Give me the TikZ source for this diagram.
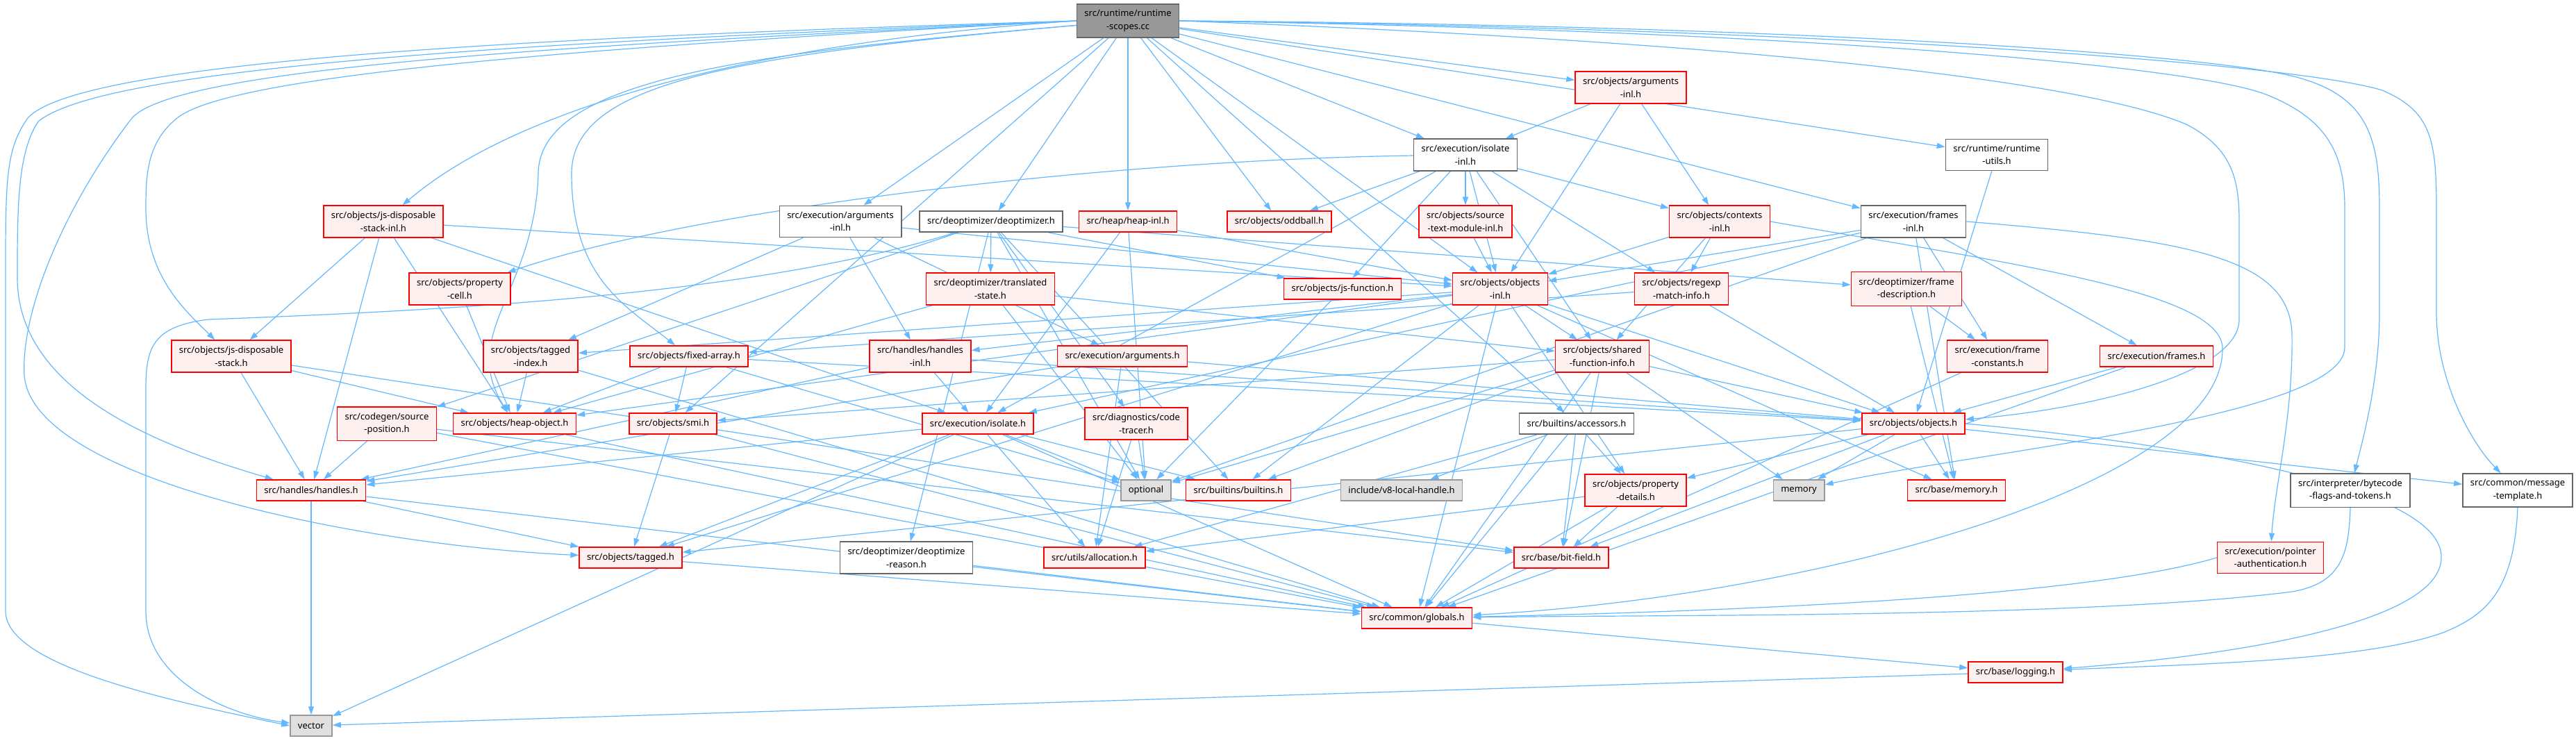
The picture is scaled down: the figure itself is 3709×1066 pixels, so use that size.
\documentclass[tikz,border=0pt]{standalone}
\usepackage{fontspec}
\setmainfont{Noto Sans}
\usetikzlibrary{arrows.meta,backgrounds}
\definecolor{edgeblue}{HTML}{63B8FF}
\definecolor{truncfill}{HTML}{FFF0F0}
\definecolor{sysfill}{HTML}{E0E0E0}
\definecolor{rootfill}{HTML}{999999}
\tikzset{
  hdr/.style={rectangle, align=center, inner xsep=11pt, inner ysep=8.5pt, minimum height=30pt,
              line width=1.5pt, font={\fontsize{13}{18.5}\selectfont}},
  redn/.style={hdr, draw=red, fill=truncfill},          % header with hidden includes
  plainn/.style={hdr, draw=black!60, fill=white},       % fully shown header
  sysn/.style={hdr, draw=black!40, fill=sysfill},       % system header
  rootn/.style={hdr, draw=black!60, fill=rootfill},     % the source file
  dep/.style={draw=edgeblue, line width=1.2pt, -{Triangle[length=12pt,width=8pt]}},
}
\begin{document}
\begin{tikzpicture}[x=1pt,y=1pt]
  \useasboundingbox (0,0) rectangle (3709,-1066);
  \node[rootn]  (rs)          at (1624,-30)   {src/runtime/runtime\\-scopes.cc};
  \node[redn]   (oargsinl)    at (2348,-126)  {src/objects/arguments\\-inl.h};
  \node[plainn] (isoinl)      at (2110,-223)  {src/execution/isolate\\-inl.h};
  \node[plainn] (rtutils)     at (2875,-223)  {src/runtime/runtime\\-utils.h};
  \node[redn]   (jsdsinl)     at (552,-319)   {src/objects/js-disposable\\-stack-inl.h};
  \node[plainn] (eargsinl)    at (1210,-319)  {src/execution/arguments\\-inl.h};
  \node[plainn] (deopt)       at (1427,-319)  {src/deoptimizer/deoptimizer.h};
  \node[redn]   (heapinl)     at (1624,-319)  {src/heap/heap-inl.h};
  \node[redn]   (oddball)     at (1842,-319)  {src/objects/oddball.h};
  \node[redn]   (stmi)        at (2110,-319)  {src/objects/source\\-text-module-inl.h};
  \node[redn]   (ctxinl)      at (2476,-319)  {src/objects/contexts\\-inl.h};
  \node[plainn] (framesinl)   at (2755,-319)  {src/execution/frames\\-inl.h};
  \node[redn]   (pcell)       at (662,-416)   {src/objects/property\\-cell.h};
  \node[redn]   (tstate)      at (1426,-416)  {src/deoptimizer/translated\\-state.h};
  \node[redn]   (jsfunc)      at (1933,-416)  {src/objects/js-function.h};
  \node[redn]   (objinl)      at (2160,-416)  {src/objects/objects\\-inl.h};
  \node[redn]   (regexp)      at (2421,-416)  {src/objects/regexp\\-match-info.h};
  \node[redn]   (framedesc)   at (2745,-416)  {src/deoptimizer/frame\\-description.h};
  \node[redn]   (jsds)        at (333,-513)   {src/objects/js-disposable\\-stack.h};
  \node[redn]   (tagidx)      at (764,-513)   {src/objects/tagged\\-index.h};
  \node[redn]   (fixarr)      at (992,-513)   {src/objects/fixed-array.h};
  \node[redn]   (handlesinl)  at (1325,-513)  {src/handles/handles\\-inl.h};
  \node[redn]   (eargs)       at (1616,-513)  {src/execution/arguments.h};
  \node[redn]   (sfi)         at (2307,-513)  {src/objects/shared\\-function-info.h};
  \node[redn]   (fconst)      at (2876,-513)  {src/execution/frame\\-constants.h};
  \node[redn]   (frames)      at (3105,-513)  {src/execution/frames.h};
  \node[redn]   (srcpos)      at (557,-610)   {src/codegen/source\\-position.h};
  \node[redn]   (heapobj)     at (741,-610)   {src/objects/heap-object.h};
  \node[redn]   (smi)         at (969,-610)   {src/objects/smi.h};
  \node[redn]   (iso)         at (1408,-610)  {src/execution/isolate.h};
  \node[redn]   (codetracer)  at (1636,-610)  {src/diagnostics/code\\-tracer.h};
  \node[plainn] (accessors)   at (2270,-610)  {src/builtins/accessors.h};
  \node[redn]   (objects)     at (2755,-610)  {src/objects/objects.h};
  \node[redn]   (handles)     at (448,-706)   {src/handles/handles.h};
  \node[sysn]   (v8lh)        at (2018,-706)  {include/v8-local-handle.h};
  \node[sysn]   (optional)    at (1650,-706)  {optional};
  \node[redn]   (builtins)    at (1783,-706)  {src/builtins/builtins.h};
  \node[redn]   (pdetails)    at (2355,-706)  {src/objects/property\\-details.h};
  \node[sysn]   (memory)      at (2590,-706)  {memory};
  \node[redn]   (bmemory)     at (2817,-706)  {src/base/memory.h};
  \node[plainn] (bytecode)    at (3384,-706)  {src/interpreter/bytecode\\-flags-and-tokens.h};
  \node[plainn] (msgtmpl)     at (3625,-706)  {src/common/message\\-template.h};
  \node[redn]   (tagged)      at (908,-803)   {src/objects/tagged.h};
  \node[plainn] (deoptreason) at (1305,-803)  {src/deoptimizer/deoptimize\\-reason.h};
  \node[redn]   (alloc)       at (1576,-803)  {src/utils/allocation.h};
  \node[redn]   (bitfield)    at (2248,-803)  {src/base/bit-field.h};
  \node[redn]   (ptrauth)     at (3269,-803)  {src/execution/pointer\\-authentication.h};
  \node[redn]   (globals)     at (2040,-890)  {src/common/globals.h};
  \node[redn]   (logging)     at (2902,-968)  {src/base/logging.h};
  \node[sysn]   (vector)      at (448,-1045)  {vector};
  \begin{scope}[on background layer]
  \foreach \u/\v in {rs/oargsinl,rs/isoinl,rs/rtutils,rs/framesinl,rs/eargsinl,rs/deopt,rs/heapinl,
      rs/oddball,rs/objinl,rs/smi,rs/accessors,
      oargsinl/isoinl,oargsinl/objinl,oargsinl/ctxinl,
      isoinl/oddball,isoinl/iso,isoinl/jsfunc,isoinl/stmi,isoinl/objinl,isoinl/sfi,isoinl/regexp,isoinl/ctxinl,
      rtutils/objects,
      jsdsinl/objinl,jsdsinl/jsds,jsdsinl/handles,jsdsinl/heapobj,jsdsinl/iso,
      eargsinl/eargs,eargsinl/handlesinl,eargsinl/tagidx,eargsinl/objinl,
      deopt/tstate,deopt/jsfunc,deopt/framedesc,deopt/deoptreason,deopt/codetracer,deopt/builtins,
      deopt/srcpos,deopt/optional,
      heapinl/iso,heapinl/objinl,heapinl/optional,
      framesinl/objinl,framesinl/optional,framesinl/iso,framesinl/bmemory,framesinl/frames,framesinl/fconst,
      pcell/heapobj,tstate/heapobj,tstate/sfi,tstate/optional,jsfunc/optional,
      objinl/objects,objinl/heapobj,objinl/tagidx,objinl/handlesinl,objinl/sfi,objinl/pdetails,
      objinl/bmemory,objinl/builtins,objinl/globals,objinl/tagged,
      regexp/fixarr,regexp/objects,stmi/objinl,ctxinl/objinl,ctxinl/regexp,ctxinl/sfi,
      framedesc/bmemory,framedesc/fconst,
      jsds/handles,jsds/heapobj,jsds/bitfield,tagidx/heapobj,tagidx/globals,
      fixarr/heapobj,fixarr/smi,fixarr/optional,fixarr/objects,
      handlesinl/iso,handlesinl/handles,handlesinl/objects,eargs/alloc,eargs/handles,eargs/objects,
      sfi/memory,sfi/optional,sfi/bitfield,sfi/builtins,sfi/globals,sfi/objects,sfi/smi,
      fconst/globals,frames/objects,frames/globals,srcpos/handles,srcpos/globals,srcpos/bitfield,
      heapobj/globals,smi/tagged,smi/globals,
      iso/handles,iso/tagged,iso/vector,iso/globals,iso/alloc,iso/optional,iso/builtins,
      codetracer/optional,codetracer/alloc,
      accessors/v8lh,accessors/globals,accessors/bitfield,accessors/pdetails,accessors/alloc,
      objects/bmemory,objects/memory,objects/pdetails,objects/msgtmpl,objects/tagged,objects/bitfield,
      handles/vector,handles/tagged,handles/globals,pdetails/bitfield,pdetails/globals,pdetails/alloc,
      tagged/globals,deoptreason/globals,globals/logging,logging/vector}
    \draw[dep] (\u)--(\v);
  % long loops round the left side
  \draw[dep] (rs.west) .. controls (900,-50) and (120,-80) .. (40,-170)
    .. controls (8,-215) and (8,-260) .. (8,-400) -- (8,-880)
    .. controls (8,-960) and (250,-1010) .. (vector.west);
  \draw[dep] (rs.west) .. controls (900,-56) and (160,-88) .. (55,-175)
    .. controls (25,-220) and (25,-300) .. (25,-400) .. controls (25,-560) and (220,-640) .. (handles);
  \draw[dep] (rs.west) .. controls (900,-62) and (260,-92) .. (190,-170)
    .. controls (90,-300) and (30,-450) .. (35,-540) .. controls (45,-690) and (520,-785) .. (tagged);
  \draw[dep] (rs.west) .. controls (800,-70) and (330,-110) .. (255,-170)
    .. controls (212,-205) and (210,-250) .. (210,-300) .. controls (210,-400) and (270,-450) .. (jsds);
  \draw[dep] (rs.west) .. controls (1100,-60) and (750,-150) .. (jsdsinl);
  \draw[dep] (rs) .. controls (1100,-75) and (776,-110) .. (775,-250)
    .. controls (770,-420) and (660,-480) .. (heapobj);
  \draw[dep] (rs) .. controls (1050,-80) and (823,-120) .. (823,-250)
    .. controls (823,-400) and (900,-440) .. (fixarr);
  \draw[dep] (deopt) .. controls (1100,-420) and (700,-445) .. (300,-460)
    .. controls (220,-470) and (210,-500) .. (210,-560) -- (210,-880)
    .. controls (210,-980) and (330,-1030) .. (vector);
  \draw[dep] (isoinl) .. controls (1600,-230) and (1000,-300) .. (pcell);
  % long loops round the right side
  \draw[dep] (rs.east) .. controls (2600,-40) and (3300,-90) .. (3430,-130)
    .. controls (3500,-160) and (3508,-200) .. (3508,-300) -- (3508,-450)
    .. controls (3508,-550) and (3560,-640) .. (msgtmpl);
  \draw[dep] (rs.east) .. controls (2600,-36) and (3200,-80) .. (3310,-112)
    .. controls (3410,-140) and (3426,-200) .. (3426,-300) -- (3426,-450)
    .. controls (3426,-550) and (3400,-640) .. (bytecode);
  \draw[dep] (rs.east) .. controls (2600,-44) and (3150,-95) .. (3260,-135)
    .. controls (3350,-170) and (3376,-220) .. (3376,-300) -- (3376,-500)
    .. controls (3376,-600) and (2850,-650) .. (memory);
  \draw[dep] (rs.east) .. controls (2500,-60) and (3000,-115) .. (3150,-180)
    .. controls (3215,-215) and (3224,-260) .. (3224,-320) -- (3224,-460)
    .. controls (3224,-540) and (3000,-590) .. (objects);
  \draw[dep] (framesinl.east) .. controls (3150,-345) and (3296,-370) .. (3300,-480)
    .. controls (3302,-600) and (3275,-700) .. (ptrauth);
  \draw[dep] (ctxinl.east) .. controls (2900,-380) and (3195,-420) .. (3200,-500)
    .. controls (3205,-700) and (2600,-860) .. (globals);
  \draw[dep] (objects.east) .. controls (3150,-640) and (3510,-700) .. (3515,-800)
    .. controls (3520,-900) and (3200,-945) .. (logging);
  \draw[dep] (msgtmpl.south) .. controls (3620,-850) and (3580,-885) .. (3520,-910)
    .. controls (3400,-955) and (3100,-958) .. (logging);
  \draw[dep] (bytecode.south) .. controls (3382,-800) and (3370,-840) .. (3300,-852)
    .. controls (3000,-890) and (2400,-885) .. (globals);
  \draw[dep] (ptrauth.west) .. controls (3000,-860) and (2500,-880) .. (globals);
  \end{scope}
\end{tikzpicture}
\end{document}
